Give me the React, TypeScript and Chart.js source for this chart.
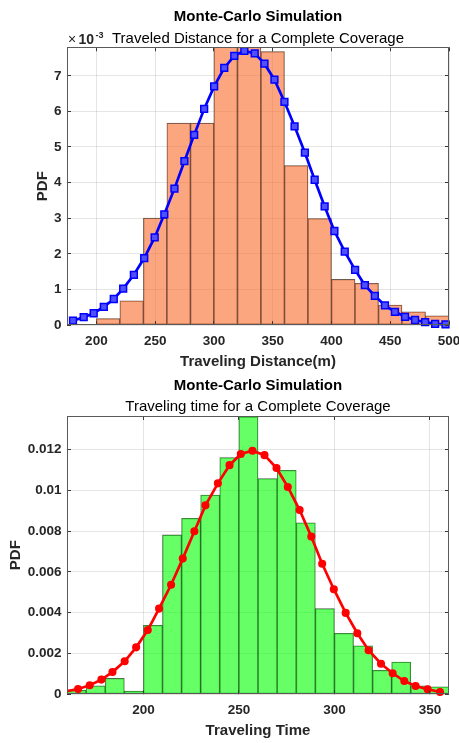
import React, { useEffect, useRef } from 'react';
import { Chart, registerables } from 'chart.js';

Chart.register(...registerables);

// ---------- Data: traveled distance (PDF values in units of 10^-3) ----------
const distBinCenters = [210, 230, 250, 270, 290, 310, 330, 350, 370, 390, 410, 430, 450, 470, 490];
const distPdf = [0.18, 0.68, 3.0, 5.67, 5.67, 8.0, 8.0, 7.68, 4.48, 2.99, 1.28, 1.17, 0.56, 0.37, 0.26];
const distFitX = [180.1, 189.2, 197.7, 206.3, 214.8, 222.8, 231.9, 240.7, 249.6, 257.8, 266.4, 274.9, 283.2, 291.7, 300.2, 308.8, 317.3, 325.9, 334.7, 343.0, 351.5, 360.0, 368.6, 377.4, 385.7, 394.2, 402.5, 411.3, 420.1, 428.4, 436.9, 445.5, 454.0, 462.6, 471.1, 479.7, 488.2, 497.0];
const distFitY = [0.12, 0.22, 0.33, 0.51, 0.73, 1.02, 1.41, 1.88, 2.46, 3.11, 3.83, 4.6, 5.34, 6.07, 6.7, 7.22, 7.56, 7.7, 7.63, 7.34, 6.89, 6.27, 5.58, 4.84, 4.08, 3.33, 2.64, 2.06, 1.55, 1.12, 0.82, 0.55, 0.37, 0.23, 0.14, 0.08, 0.03, 0.02];
const distTicksX = [200, 250, 300, 350, 400, 450, 500];
const distTicksY = [0, 1, 2, 3, 4, 5, 6, 7];

// ---------- Data: traveling time ----------
const timeBinCenters = [165, 175, 185, 195, 205, 215, 225, 235, 245, 255, 265, 275, 285, 295, 305, 315, 325, 335, 345, 355];
const timePdf = [0.0002, 0.00041, 0.00078, 0.00016, 0.00338, 0.00781, 0.00863, 0.00977, 0.0116, 0.0136, 0.01057, 0.01098, 0.00841, 0.0042, 0.00299, 0.00238, 0.00118, 0.00158, 0.00041, 0.00037];
const timeFitX = [159.7, 165.8, 171.9, 178.0, 183.8, 190.2, 196.2, 202.3, 208.2, 214.5, 220.6, 226.7, 232.5, 239.0, 245.1, 251.0, 257.1, 263.4, 269.7, 275.6, 281.8, 287.9, 293.6, 299.7, 305.9, 312.0, 317.9, 324.4, 330.5, 336.6, 342.5, 348.8, 355.3];
const timeFitY = [0.00015, 0.00026, 0.00044, 0.00072, 0.00109, 0.00162, 0.0023, 0.00315, 0.0042, 0.00537, 0.00665, 0.00799, 0.00926, 0.01034, 0.01123, 0.01178, 0.01194, 0.01172, 0.01109, 0.01016, 0.00903, 0.00773, 0.0064, 0.00515, 0.00399, 0.00299, 0.00216, 0.0015, 0.00103, 0.00065, 0.00041, 0.00025, 0.00011];
const timeTicksX = [200, 250, 300, 350];
const timeTicksY = [0, 0.002, 0.004, 0.006, 0.008, 0.01, 0.012];

const FONT = "'Liberation Sans', Arial, Helvetica, sans-serif";
const W = 459;

const decorPlugin = {
  id: 'decor',
  afterDraw(chart: any, _args: any, o: any) {
    const { ctx, chartArea: a } = chart;
    const xs = chart.scales.x;
    const ys = chart.scales.y;
    ctx.save();
    // inward tick marks
    ctx.strokeStyle = '#3a3a3a';
    ctx.lineWidth = 1;
    ctx.beginPath();
    for (const v of o.xTicks) {
      const p = Math.floor(xs.getPixelForValue(v)) + 0.5;
      ctx.moveTo(p, a.bottom); ctx.lineTo(p, a.bottom - 4);
      ctx.moveTo(p, a.top); ctx.lineTo(p, a.top + 4);
    }
    for (const v of o.yTicks) {
      const p = Math.floor(ys.getPixelForValue(v)) + 0.5;
      ctx.moveTo(a.left, p); ctx.lineTo(a.left + 4, p);
      ctx.moveTo(a.right, p); ctx.lineTo(a.right - 4, p);
    }
    ctx.stroke();
    // axes box
    ctx.strokeStyle = '#5a5a5a';
    const l = Math.floor(a.left) + 0.5, t = Math.floor(a.top) + 0.5;
    const r = Math.floor(a.right) - 0.5, b = Math.floor(a.bottom) - 0.5;
    ctx.strokeRect(l, t, r - l, b - t);

    const cx = (a.left + a.right) / 2;
    ctx.textAlign = 'center';
    ctx.textBaseline = 'alphabetic';
    ctx.fillStyle = '#000';
    ctx.font = `bold 15px ${FONT}`;
    ctx.fillText(o.title, cx, a.top - 26.3);
    ctx.font = `15px ${FONT}`;
    ctx.fillText(o.subtitle, cx, a.top - 4.8);

    ctx.fillStyle = '#262626';
    ctx.font = `bold 15px ${FONT}`;
    ctx.fillText(o.xTitle, cx, a.bottom + 41);

    ctx.save();
    ctx.translate(o.yTitleX, (a.top + a.bottom) / 2);
    ctx.rotate(-Math.PI / 2);
    ctx.fillText(o.yTitle, 0, 0);
    ctx.restore();

    if (o.exponent) {
      ctx.textAlign = 'left';
      const bx = a.left + 1;
      const by = a.top - 3.3;
      ctx.font = `14px ${FONT}`;
      ctx.fillText('\u00d7', bx, by);
      ctx.font = `bold 14px ${FONT}`;
      ctx.fillText('10', bx + 10.5, by);
      ctx.font = `bold 9px ${FONT}`;
      ctx.fillText(o.exponent, bx + 27.5, by - 6.5);
    }
    ctx.restore();
  },
};

type Spec = {
  binCenters: number[];
  pdf: number[];
  fitX: number[];
  fitY: number[];
  ticksX: number[];
  ticksY: number[];
  xMin: number;
  xMax: number;
  yMax: number;
  padTop: number;
  xHeight: number;
  barColor: string;
  lineColor: string;
  pointStyle: string;
  pointRadius: number;
  pointBg: string;
  yLabel: (v: number) => string;
  decor: any;
};

function buildConfig(s: Spec): any {
  const tickFont = { family: FONT, size: 13.5, weight: 'bold' };
  return {
    type: 'bar',
    data: {
      datasets: [
        {
          type: 'line',
          data: s.fitX.map((x, i) => ({ x, y: s.fitY[i] })),
          borderColor: s.lineColor,
          borderWidth: 2.7,
          pointStyle: s.pointStyle,
          pointRadius: (c: any) => (c.raw && c.raw.x < s.xMin ? 0 : s.pointRadius),
          pointBackgroundColor: s.pointBg,
          pointBorderColor: s.lineColor,
          pointBorderWidth: 1.5,
          tension: 0,
          order: 0,
          clip: { left: 0, top: 0, right: 5, bottom: 5 },
        },
        {
          type: 'bar',
          data: s.binCenters.map((x, i) => ({ x, y: s.pdf[i] })),
          backgroundColor: s.barColor,
          borderColor: 'rgba(30,30,30,0.75)',
          borderWidth: 0.6,
          borderSkipped: false,
          barPercentage: 1,
          categoryPercentage: 1,
          order: 1,
          clip: 0,
        },
      ],
    },
    options: {
      responsive: false,
      animation: false,
      devicePixelRatio: 1,
      events: [],
      layout: { padding: { left: 0, top: s.padTop, right: 10, bottom: 0 } },
      plugins: {
        legend: { display: false },
        tooltip: { enabled: false },
        title: { display: false },
        decor: s.decor,
      },
      scales: {
        x: {
          type: 'linear',
          min: s.xMin,
          max: s.xMax,
          offset: false,
          afterBuildTicks: (sc: any) => {
            sc.ticks = s.ticksX.map((v) => ({ value: v }));
          },
          afterFit: (sc: any) => {
            sc.height = s.xHeight;
            sc.paddingLeft = 0;
            sc.paddingRight = 0;
          },
          grid: { color: 'rgba(0,0,0,0.1)', drawTicks: false, offset: false },
          border: { display: false },
          ticks: {
            font: tickFont,
            color: '#262626',
            padding: 8,
            maxRotation: 0,
            autoSkip: false,
            callback: (v: number) => String(v),
          },
        },
        y: {
          type: 'linear',
          min: 0,
          max: s.yMax,
          afterBuildTicks: (sc: any) => {
            sc.ticks = s.ticksY.map((v) => ({ value: v }));
          },
          afterFit: (sc: any) => {
            sc.width = 67;
            sc.paddingTop = 0;
            sc.paddingBottom = 0;
          },
          grid: { color: 'rgba(0,0,0,0.1)', drawTicks: false },
          border: { display: false },
          ticks: {
            font: tickFont,
            color: '#262626',
            padding: 5.5,
            autoSkip: false,
            callback: (v: number) => s.yLabel(v),
          },
        },
      },
    },
    plugins: [decorPlugin],
  };
}

function ChartCanvas({ spec, height }: { spec: Spec; height: number }) {
  const ref = useRef<HTMLCanvasElement | null>(null);
  useEffect(() => {
    if (!ref.current) return;
    const chart = new Chart(ref.current, buildConfig(spec));
    return () => chart.destroy();
  }, [spec]);
  return <canvas ref={ref} width={W} height={height} style={{ display: 'block', width: W, height }} />;
}

const topSpec: Spec = {
  binCenters: distBinCenters,
  pdf: distPdf,
  fitX: distFitX,
  fitY: distFitY,
  ticksX: distTicksX,
  ticksY: distTicksY,
  xMin: 175,
  xMax: 500,
  yMax: 7.8,
  padTop: 47.3,
  xHeight: 47,
  barColor: 'rgba(250,107,43,0.6)',
  lineColor: '#0000ff',
  pointStyle: 'rect',
  pointRadius: 4.8,
  pointBg: '#5050ff',
  yLabel: (v: number) => String(v),
  decor: {
    title: 'Monte-Carlo Simulation',
    subtitle: 'Traveled Distance for a Complete Coverage',
    xTitle: 'Traveling Distance(m)',
    yTitle: 'PDF',
    yTitleX: 46.7,
    exponent: '-3',
    xTicks: distTicksX,
    yTicks: distTicksY,
  },
};

const bottomSpec: Spec = {
  binCenters: timeBinCenters,
  pdf: timePdf,
  fitX: timeFitX,
  fitY: timeFitY,
  ticksX: timeTicksX,
  ticksY: timeTicksY,
  xMin: 160,
  xMax: 360,
  yMax: 0.01364,
  padTop: 44,
  xHeight: 48.7,
  barColor: 'rgba(0,255,0,0.6)',
  lineColor: '#ff0000',
  pointStyle: 'circle',
  pointRadius: 3.3,
  pointBg: '#ff0000',
  yLabel: (v: number) => (v === 0 ? '0' : String(parseFloat(v.toFixed(4)))),
  decor: {
    title: 'Monte-Carlo Simulation',
    subtitle: 'Traveling time for a Complete Coverage',
    xTitle: 'Traveling Time',
    yTitle: 'PDF',
    yTitleX: 20,
    exponent: '',
    xTicks: timeTicksX,
    yTicks: timeTicksY,
  },
};

export default function App() {
  return (
    <div style={{ position: 'fixed', left: 0, top: 0, width: W, height: 743, background: '#fff', overflow: 'hidden' }}>
      <ChartCanvas spec={topSpec} height={372} />
      <ChartCanvas spec={bottomSpec} height={371} />
    </div>
  );
}
